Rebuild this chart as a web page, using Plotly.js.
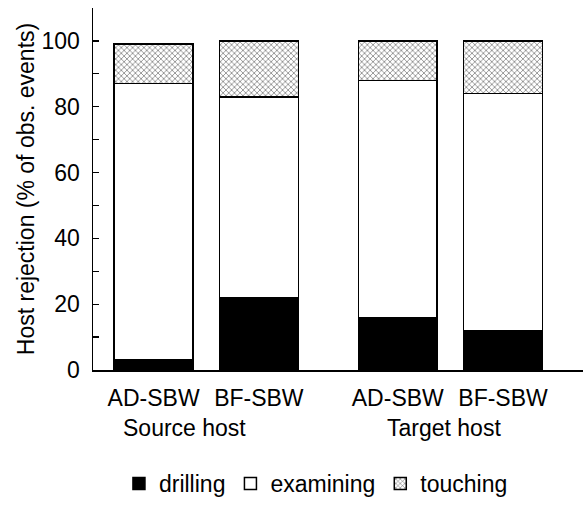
<!DOCTYPE html>
<html>
<head>
<meta charset="utf-8">
<script src="https://cdn.plot.ly/plotly-3.0.1.min.js"></script>
<style>html,body{margin:0;padding:0;background:#fff;}#chart{width:583px;height:505px;}</style>
</head>
<body>
<div id="chart"></div>
<script>
// Data
const categories = ["AD-SBW", "BF-SBW", "AD-SBW", "BF-SBW"];
const groups = ["Source host", "Target host"];
const drilling = [3, 22, 16, 12];
const examining = [84, 61, 72, 72];
const touching = [12, 17, 12, 16];

// category slots along the x axis (two groups with a wider gap between them)
const slots = [0, 1, 2.32, 3.32];
const groupCentres = [0.29, 2.757];

const font = {family: "Liberation Sans, Arial, sans-serif", size: 23, color: "#000"};
const outline = {color: "#000", width: 1.5};

const traces = [
  {type: "bar", name: "drilling", x: slots, y: drilling,
   marker: {color: "#000", line: outline}},
  {type: "bar", name: "examining", x: slots, y: examining,
   marker: {color: "#fff", line: outline}},
  {type: "bar", name: "touching", x: slots, y: touching,
   marker: {color: "#fff", line: outline,
            pattern: {shape: "x", size: 4, solidity: 0.3, fgcolor: "#666", bgcolor: "#fff"}}}
];

const layout = {
  width: 583, height: 505,
  margin: {l: 93, r: 0, t: 8, b: 129},
  font: font,
  barmode: "stack",
  bargap: 0.25,
  paper_bgcolor: "#fff", plot_bgcolor: "#fff",
  showlegend: true,
  legend: {orientation: "h", x: 0.455, xanchor: "center", y: -0.315, yanchor: "middle",
           font: font, itemwidth: 30, traceorder: "normal", tracegroupgap: 0},
  xaxis: {range: [-0.576, 4.08], tickvals: slots, ticktext: categories,
          showline: true, linecolor: "#000", linewidth: 1.5, showgrid: false, zeroline: false,
          ticks: "", ticklabelstandoff: 7, tickfont: font, fixedrange: true},
  yaxis: {range: [0, 110], tickvals: [0, 20, 40, 60, 80, 100],
          showline: true, linecolor: "#000", linewidth: 1.5, showgrid: false, zeroline: false,
          ticks: "inside", ticklen: 6, tickwidth: 1.2, tickcolor: "#000",
          minor: {tickvals: [10, 30, 50, 70, 90], ticks: "inside", ticklen: 6, tickwidth: 1.2, tickcolor: "#000"},
          ticklabelstandoff: 7, tickfont: font,
          title: {text: "Host rejection (% of obs. events)", font: font, standoff: 0}},
  annotations: groups.map((g, i) => ({
    text: g, x: groupCentres[i], xref: "x", y: -0.16, yref: "paper",
    yanchor: "middle", xanchor: "center", showarrow: false, font: font
  }))
};

Plotly.newPlot("chart", traces, layout, {displayModeBar: false, staticPlot: true});
</script>
</body>
</html>
